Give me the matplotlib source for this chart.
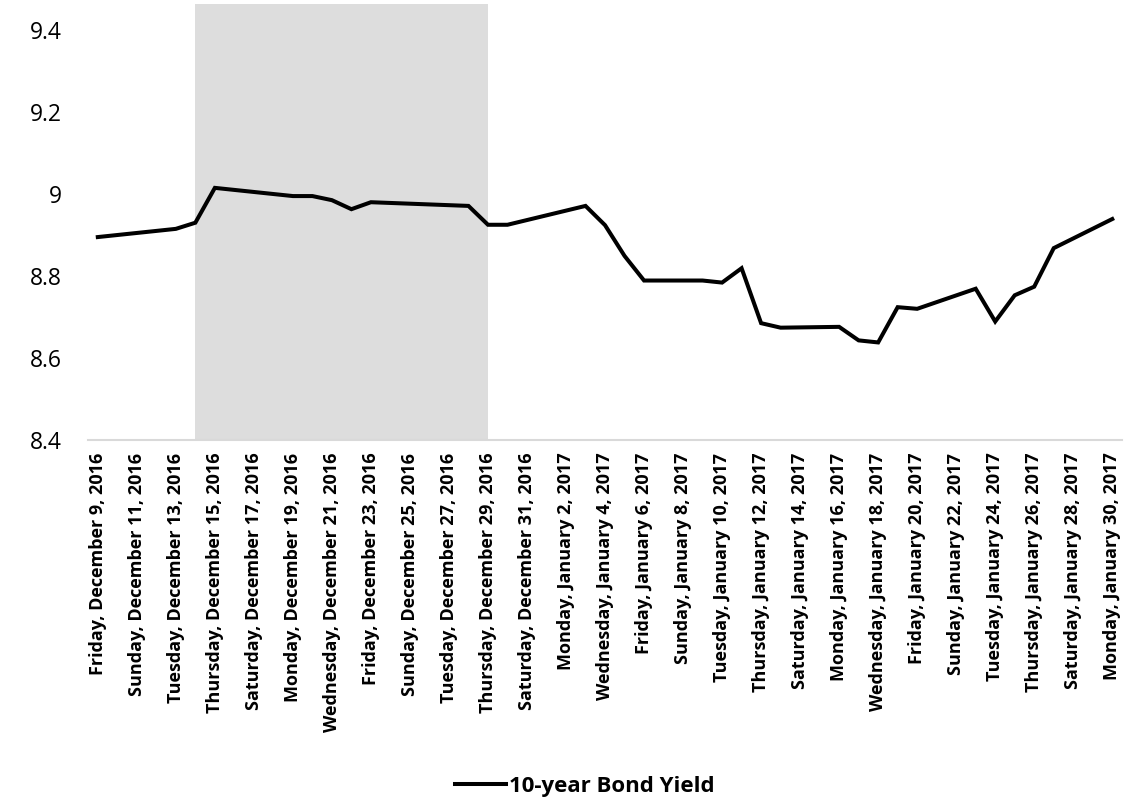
import matplotlib.pyplot as plt
import pandas as pd

# 10-year bond yield
dates = ["2016-12-09", "2016-12-13", "2016-12-14", "2016-12-15", "2016-12-19",
         "2016-12-20", "2016-12-21", "2016-12-22", "2016-12-23", "2016-12-28",
         "2016-12-29", "2016-12-30", "2017-01-03", "2017-01-04", "2017-01-05",
         "2017-01-06", "2017-01-09", "2017-01-10", "2017-01-11", "2017-01-12",
         "2017-01-13", "2017-01-16", "2017-01-17", "2017-01-18", "2017-01-19",
         "2017-01-20", "2017-01-23", "2017-01-24", "2017-01-25", "2017-01-26",
         "2017-01-27", "2017-01-30"]
yields = [8.895, 8.915, 8.930, 9.015, 8.995,
          8.995, 8.985, 8.963, 8.980, 8.971,
          8.925, 8.925, 8.971, 8.924, 8.849,
          8.789, 8.789, 8.784, 8.819, 8.685,
          8.674, 8.676, 8.643, 8.638, 8.724,
          8.720, 8.769, 8.689, 8.753, 8.774,
          8.868, 8.939]

shade_start = "2016-12-14"
shade_end = "2016-12-29"
y_ticks = [8.4, 8.6, 8.8, 9, 9.2, 9.4]

x = pd.to_datetime(dates)
tick_dates = pd.date_range("2016-12-09", "2017-01-30", freq="2D")
tick_labels = [f"{d:%A}, {d:%B} {d.day}, {d.year}" for d in tick_dates]

plt.rcParams['font.family'] = ['Open Sans', 'DejaVu Sans']

fig = plt.figure(figsize=(11.42, 8.05), dpi=100)
ax = fig.add_axes([0.0771, 0.4534, 0.9054, 0.5416])

ax.axvspan(pd.Timestamp(shade_start), pd.Timestamp(shade_end),
           color='#dddddd', lw=0, zorder=0)
ax.plot(x, yields, color='black', lw=2.9, solid_joinstyle='miter',
        label="10-year Bond Yield", zorder=3)

ax.set_xlim(pd.Timestamp("2016-12-08 12:00"), pd.Timestamp("2017-01-30 12:00"))
ax.set_ylim(8.4, 9.4634)
ax.set_yticks(y_ticks)
ax.set_yticklabels([f"{v:g}" for v in y_ticks], fontsize=16.5)
ax.set_xticks(tick_dates)
ax.set_xticklabels(tick_labels, rotation=90, fontsize=13, fontweight='bold')

for s in ['top', 'right', 'left']:
    ax.spines[s].set_visible(False)
ax.spines['bottom'].set_color('#d9d9d9')
ax.spines['bottom'].set_linewidth(1.5)
ax.tick_params(axis='both', length=0)
ax.tick_params(axis='y', pad=19)
ax.tick_params(axis='x', pad=9)

fig.legend(loc='center', bbox_to_anchor=(0.512, 0.023), frameon=False,
           prop={'weight': 'bold', 'size': 16}, handlelength=2.3,
           handletextpad=0.15)

fig.savefig("out.png", dpi=100)
